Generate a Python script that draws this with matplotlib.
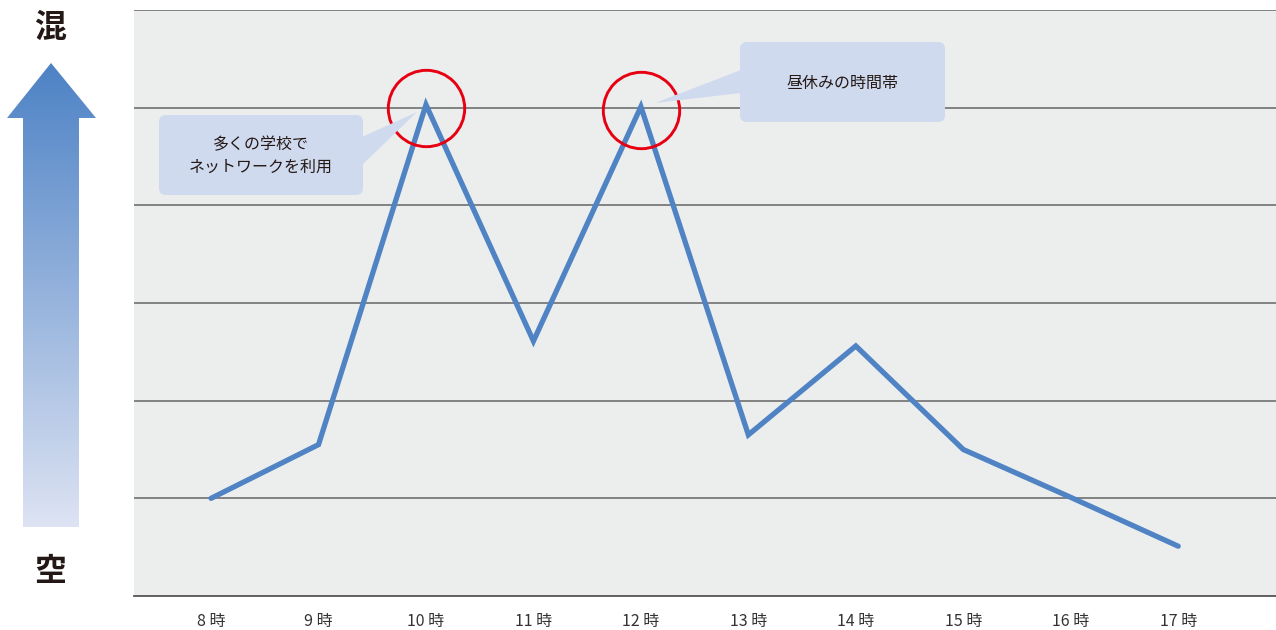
import numpy as np
import matplotlib as mpl
mpl.use('Agg')
import matplotlib.pyplot as plt
from matplotlib.patches import Polygon, FancyBboxPatch

plt.rcParams['font.family'] = ['Noto Sans CJK JP', 'DejaVu Sans']

# data
hours = ['8 時', '9 時', '10 時', '11 時', '12 時', '13 時', '14 時', '15 時', '16 時', '17 時']
traffic = [1.0, 1.55, 5.03, 2.61, 5.01, 1.65, 2.56, 1.50, 1.01, 0.51]
peaks = [2, 4]
note_school = '多くの学校で\nネットワークを利用'
note_lunch = '昼休みの時間帯'

W, H = 1276, 630
fig = plt.figure(figsize=(W / 100, H / 100), dpi=100)

# main chart
ax = fig.add_axes([134 / W, (H - 596) / H, (W - 134) / W, (596 - 10) / H])
ax.set_facecolor('#eceeee')
x = np.arange(len(hours))
for yv in range(1, 7):
    ax.axhline(yv, color='#6a6a6a', lw=1.15, zorder=1)
ax.plot(x, traffic, color='#4f83c4', lw=3.8, solid_capstyle='round',
        solid_joinstyle='miter', zorder=3)
ax.plot(x[peaks], np.array(traffic)[peaks] - 0.03, 'o', ms=55, mfc='none',
        mec='#e60012', mew=2.1, zorder=4)
ax.set_xlim(-0.717, 9.91)
ax.set_ylim(0, 6)
ax.set_xticks(x)
ax.set_xticklabels(hours, fontsize=11.5, color='#333333')
ax.set_yticks([])
ax.tick_params(axis='x', length=0, pad=12)
for s in ['left', 'right', 'top']:
    ax.spines[s].set_visible(False)
ax.spines['bottom'].set_color('#555555')
ax.spines['bottom'].set_linewidth(1.3)

# overlay in pixel coords for arrow and callouts
ov = fig.add_axes([0, 0, 1, 1])
ov.axis('off')
ov.patch.set_alpha(0)

# gradient arrow
arrow = Polygon([(51, 63), (96, 118), (79, 118), (79, 527), (23, 527), (23, 118), (7, 118)],
                closed=True, facecolor='none', edgecolor='none')
ov.add_patch(arrow)
c_top = np.array(mpl.colors.to_rgb('#4d82c5'))
c_bot = np.array(mpl.colors.to_rgb('#dde3f3'))
t = np.linspace(0, 1, 256)[:, None]
grad = (c_top * (1 - t) + c_bot * t)[:, None, :]
im = ov.imshow(grad, extent=(7, 96, 527, 63), aspect='auto', zorder=2)
im.set_clip_path(arrow)
ov.set_xlim(0, W)
ov.set_ylim(H, 0)

ov.text(50, 28, '混', fontsize=23, fontweight='bold', color='#231815', ha='center', va='center')
ov.text(50, 572, '空', fontsize=23, fontweight='bold', color='#231815', ha='center', va='center')

# callouts
box_col = '#d0daee'
ov.add_patch(FancyBboxPatch((159, 115), 204, 80, boxstyle='round,pad=0,rounding_size=7',
                            fc=box_col, ec='none', zorder=5))
ov.add_patch(Polygon([(362, 137), (362, 165), (417, 112)], fc=box_col, ec='none', zorder=5))
ov.text(261, 156, note_school, fontsize=11.5, color='#231815', ha='center', va='center',
        linespacing=1.45, zorder=6)

ov.add_patch(FancyBboxPatch((740, 42), 205, 80, boxstyle='round,pad=0,rounding_size=7',
                            fc=box_col, ec='none', zorder=5))
ov.add_patch(Polygon([(741, 70), (741, 93), (655, 103)], fc=box_col, ec='none', zorder=5))
ov.text(842, 83, note_lunch, fontsize=11.5, color='#231815', ha='center', va='center', zorder=6)

fig.savefig('out.png', dpi=100, facecolor='white')
